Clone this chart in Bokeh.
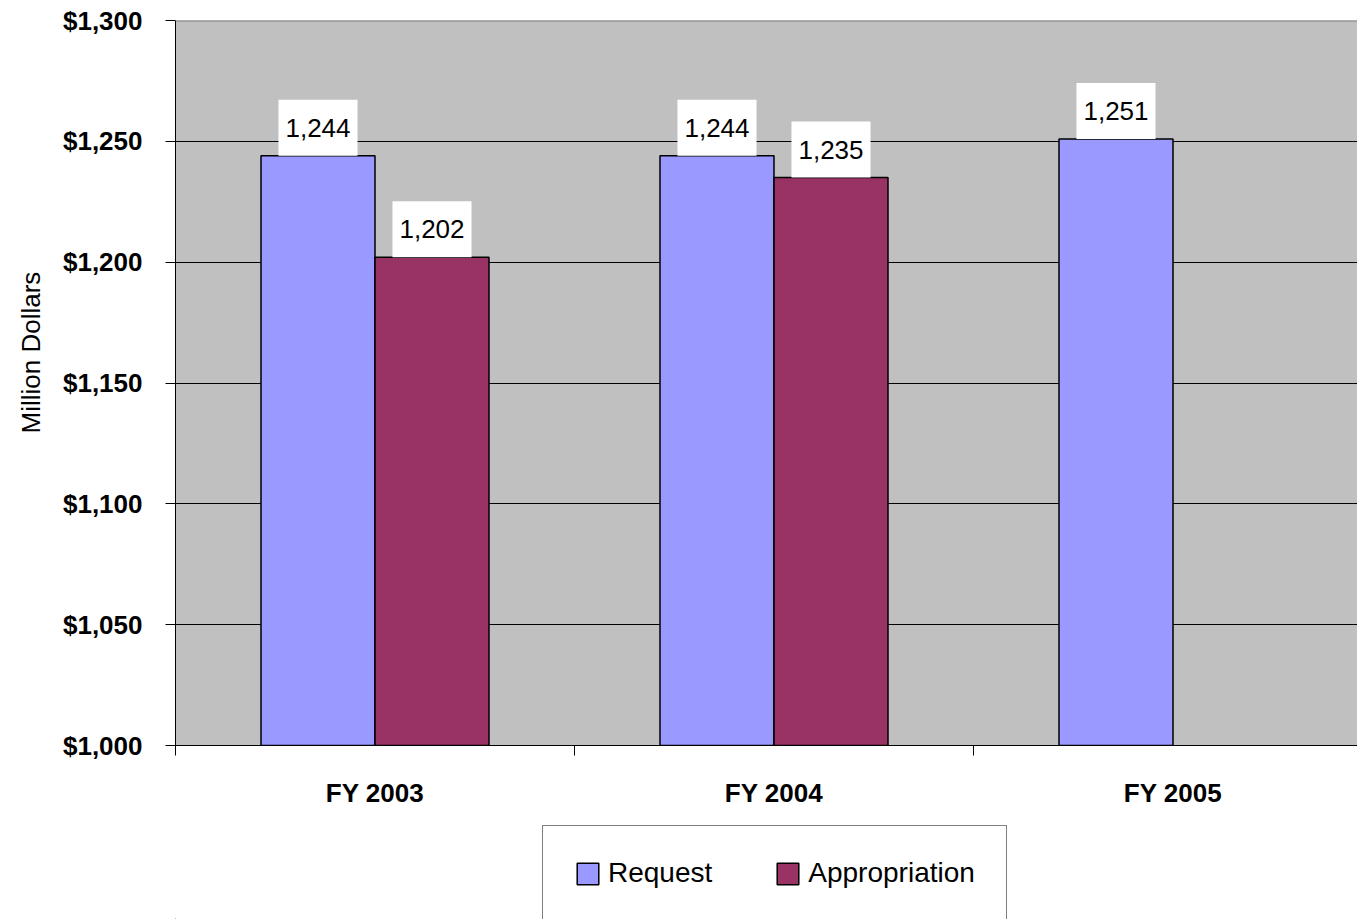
from bokeh.plotting import figure
from bokeh.layouts import column
from bokeh.models import (Range1d, FixedTicker, NumeralTickFormatter, Span, Title, BoxAnnotation,
                          Legend, LegendItem, ColumnDataSource)
from bokeh.core.properties import value
from bokeh.embed import file_html
from bokeh.resources import INLINE

# ---- data ----
categories = ["FY 2003", "FY 2004", "FY 2005"]
request = [1244, 1244, 1251]
appropriation = [1202, 1235, None]
y_ticks = [1000, 1050, 1100, 1150, 1200, 1250, 1300]
series_names = ["Request", "Appropriation"]
series_colors = ["#9999FF", "#993366"]

FONT = "Liberation Sans"

n = len(categories)
bar_w = 1 / 3.5          # Excel gap width 150%
centers = [i + 0.5 for i in range(n)]

req_x = [c - bar_w / 2 for c in centers]
app_x = [c + bar_w / 2 for c, v in zip(centers, appropriation) if v is not None]
app_v = [v for v in appropriation if v is not None]

p = figure(width=1357, height=820, output_backend="svg", toolbar_location=None,
           x_range=Range1d(0, (1357 - 175) / 399.0), y_range=Range1d(1000, 1300),
           min_border_left=175, min_border_right=0, min_border_top=20, min_border_bottom=75)
p.background_fill_color = "#C0C0C0"
p.border_fill_color = "white"
p.outline_line_color = None
p.xgrid.grid_line_color = None
p.ygrid.grid_line_color = "black"
p.ygrid.grid_line_width = 1

src_r = ColumnDataSource(dict(x=req_x, top=request, lab=[f"{v:,}" for v in request]))
src_a = ColumnDataSource(dict(x=app_x, top=app_v, lab=[f"{v:,}" for v in app_v]))

p.vbar(x="x", top="top", bottom=1000, width=bar_w, source=src_r,
       fill_color=series_colors[0], line_color="black", line_width=1.5)
p.vbar(x="x", top="top", bottom=1000, width=bar_w, source=src_a,
       fill_color=series_colors[1], line_color="black", line_width=1.5)

for src in (src_r, src_a):
    p.text(x="x", y="top", text="lab", source=src, text_font=value(FONT),
           text_font_size="26px", text_color="black", text_align="center",
           text_baseline="bottom", background_fill_color="white",
           padding=dict(left=7, right=7, top=19, bottom=19))

p.add_layout(Span(location=1300, dimension="width", line_color="#808080", line_width=2))

# y axis
ya = p.yaxis[0]
ya.ticker = FixedTicker(ticks=y_ticks)
ya.formatter = NumeralTickFormatter(format="$0,0")
ya.major_label_text_font = FONT
ya.major_label_text_font_style = "bold"
ya.major_label_text_font_size = "26px"
ya.major_label_text_color = "black"
ya.major_tick_out = 10
ya.major_tick_in = 0
ya.minor_tick_line_color = None
ya.major_label_standoff = 23
ya.axis_line_color = "black"
ya.major_tick_line_color = "black"

# x axis
xa = p.xaxis[0]
xa.ticker = FixedTicker(ticks=centers, minor_ticks=list(range(n + 1)))
xa.major_label_overrides = {c: lab for c, lab in zip(centers, categories)}
xa.major_label_text_font = FONT
xa.major_label_text_font_style = "bold"
xa.major_label_text_font_size = "26px"
xa.major_label_text_color = "black"
xa.major_tick_line_color = None
xa.major_tick_out = 0
xa.major_tick_in = 0
xa.minor_tick_out = 10
xa.minor_tick_in = 0
xa.minor_tick_line_color = "black"
xa.major_label_standoff = 22
xa.axis_line_color = "black"

# y axis title (left-side title, offset upward like the reference)
p.add_layout(Title(text="Million Dollars", align="left", offset=312,
                   text_font=FONT, text_font_size="26px", text_font_style="normal",
                   text_color="black", standoff=27), "left")

# ---- legend strip below the chart ----
# same data sources, mapped off-canvas; a white box masks the strip so only the legend shows
p2 = figure(width=1357, height=99, output_backend="svg", toolbar_location=None,
            x_range=Range1d(10, 13), y_range=Range1d(1300, 1400),
            x_axis_type=None, y_axis_type=None,
            min_border_left=175, min_border_right=0, min_border_top=0, min_border_bottom=0)
p2.outline_line_color = None
p2.grid.grid_line_color = None
p2.background_fill_color = "white"
p2.border_fill_color = "white"

items = []
for name, col, src in zip(series_names, series_colors, (src_r, src_a)):
    r = p2.vbar(x="x", top="top", bottom=1000, width=bar_w, source=src, fill_color=col,
                line_color="black", line_width=1.5)
    items.append(LegendItem(label=name, renderers=[r]))

p2.add_layout(BoxAnnotation(fill_color="white", fill_alpha=1, line_color=None))

legend = Legend(items=items, orientation="horizontal", location=(367, -2),
                padding=31, glyph_width=27, glyph_height=27, label_standoff=7, spacing=62,
                label_text_font=FONT, label_text_font_size="28px", label_text_color="black",
                border_line_color="black", border_line_width=1,
                background_fill_color="white", background_fill_alpha=1,
                margin=0)
p2.add_layout(legend, "center")

layout = column(p, p2, spacing=0)
open("out.html", "w").write(file_html(layout, INLINE))
